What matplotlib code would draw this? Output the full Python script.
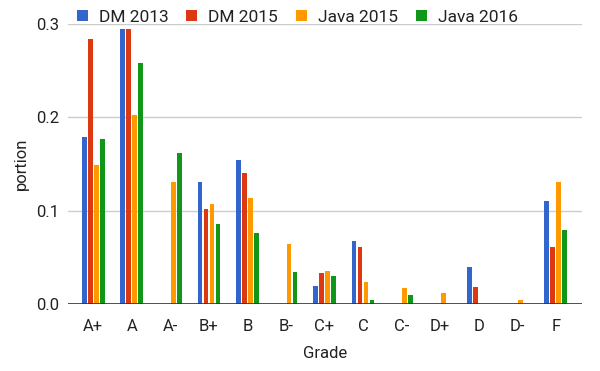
import matplotlib.pyplot as plt
import numpy as np

plt.rcParams['font.family'] = ['Roboto', 'DejaVu Sans']

grades = ['A+', 'A', 'A-', 'B+', 'B', 'B-', 'C+', 'C', 'C-', 'D+', 'D', 'D-', 'F']
series_names = ['DM 2013', 'DM 2015', 'Java 2015', 'Java 2016']

dm_2013 = [0.179, 0.295, 0, 0.131, 0.154, 0, 0.020, 0.068, 0, 0, 0.040, 0, 0.111]
dm_2015 = [0.284, 0.295, 0, 0.102, 0.141, 0, 0.033, 0.061, 0, 0, 0.018, 0, 0.061]
java_2015 = [0.149, 0.203, 0.131, 0.107, 0.114, 0.065, 0.036, 0.024, 0.017, 0.012, 0, 0.005, 0.131]
java_2016 = [0.177, 0.258, 0.162, 0.086, 0.076, 0.035, 0.030, 0.004, 0.010, 0, 0, 0, 0.080]

colors = ['#3366cc', '#dc3912', '#ff9900', '#109618']
text_color = '#222222'

fig = plt.figure(figsize=(6, 3.71), dpi=100)
ax = fig.add_axes([0.113, 0.18, 0.857, 0.755])

x = np.arange(len(grades))
step = 0.156
width = 0.122
for i, (vals, name, c) in enumerate(zip([dm_2013, dm_2015, java_2015, java_2016], series_names, colors)):
    ax.bar(x + (i - 1.5) * step, vals, width, color=c, label=name, zorder=3)

ax.set_xlim(-0.66, 12.68)
ax.set_ylim(0, 0.3)
ax.set_yticks([0, 0.1, 0.2, 0.3])
ax.set_yticklabels(['0.0', '0.1', '0.2', '0.3'])
ax.set_xticks(x)
ax.set_xticklabels(grades)
ax.tick_params(axis='both', length=0, labelsize=12, colors=text_color)
ax.tick_params(axis='x', pad=10.5)
ax.tick_params(axis='y', pad=6.5)
ax.grid(axis='y', color='#cccccc', linewidth=1, zorder=0)
ax.axhline(0, color='#333333', linewidth=1.2, zorder=4)
for s in ax.spines.values():
    s.set_visible(False)

ax.set_xlabel('Grade', fontsize=12, color=text_color, labelpad=8.5)
ax.set_ylabel('portion', fontsize=12, color=text_color, labelpad=5)

fig.legend(loc='center left', bbox_to_anchor=(0.128, 0.954), ncol=4, frameon=False,
           fontsize=12.5, handlelength=0.63, handleheight=0.63, handletextpad=0.63,
           columnspacing=1.04, borderpad=0, borderaxespad=0, labelcolor=text_color)

fig.savefig('out.png', dpi=100)
